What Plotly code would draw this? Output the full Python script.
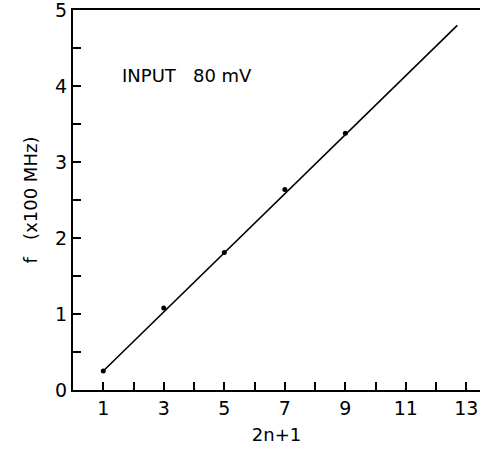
import plotly.graph_objects as go

# measured points: f (x100 MHz) vs harmonic number 2n+1
harmonic = [1, 3, 5, 7, 9]
freq = [0.25, 1.08, 1.81, 2.64, 3.38]

# drawn straight-line fit through the points
fit_x = [1, 12.7]
fit_y = [0.25, 4.80]

x_tickvals = [1, 3, 5, 7, 9, 11, 13]
y_tickvals = [0, 1, 2, 3, 4, 5]

font = "DejaVu Sans, Arial, sans-serif"

fig = go.Figure()
fig.add_trace(go.Scatter(x=fit_x, y=fit_y, mode="lines",
                         line=dict(color="black", width=1.6), showlegend=False))
fig.add_trace(go.Scatter(x=harmonic, y=freq, mode="markers",
                         marker=dict(color="black", size=5), showlegend=False))

fig.add_annotation(x=1.55, y=4.14, xref="x", yref="y", text="INPUT   80 mV",
                   showarrow=False, xanchor="left", yanchor="middle",
                   font=dict(family=font, size=18, color="black"))

fig.update_layout(
    width=480, height=459,
    margin=dict(l=73, r=0, t=10, b=69),
    plot_bgcolor="white", paper_bgcolor="white",
    font=dict(family=font, size=19, color="black"),
    xaxis=dict(range=[0, 13.45], showgrid=False, zeroline=False,
               showline=True, linecolor="black", linewidth=2, mirror=True,
               ticks="inside", ticklen=8, tickwidth=1.5, tickcolor="black",
               tickmode="array",
               tickvals=list(range(1, 14)),
               ticktext=[str(v) if v in x_tickvals else "" for v in range(1, 14)],
               title=dict(text="2n+1", standoff=11, font=dict(size=18))),
    yaxis=dict(range=[0, 5.002], showgrid=False, zeroline=False,
               showline=True, linecolor="black", linewidth=2,
               ticks="inside", ticklen=8, tickwidth=1.5, tickcolor="black",
               ticklabeloverflow="allow",
               tickmode="array",
               tickvals=[v / 2 for v in range(0, 11)],
               ticktext=[str(int(v / 2)) if (v / 2) in y_tickvals else "" for v in range(0, 11)],
               title=dict(text="f   (x100 MHz)", standoff=13, font=dict(size=18))),
)

fig.write_html("out.html")
